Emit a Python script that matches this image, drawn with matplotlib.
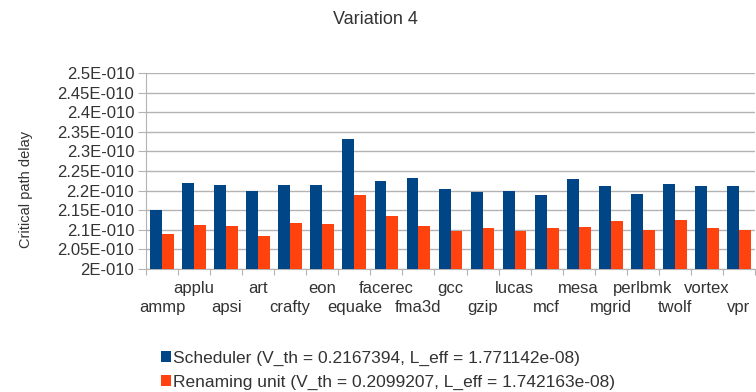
import numpy as np
import matplotlib.pyplot as plt

plt.rcParams['font.family'] = ['Liberation Sans', 'DejaVu Sans']

benchmarks = ['ammp', 'applu', 'apsi', 'art', 'crafty', 'eon', 'equake', 'facerec',
              'fma3d', 'gcc', 'gzip', 'lucas', 'mcf', 'mesa', 'mgrid', 'perlbmk',
              'twolf', 'vortex', 'vpr']
# critical path delay, in units of 1e-10 s
scheduler = [2.150, 2.219, 2.215, 2.199, 2.215, 2.215, 2.331, 2.225, 2.233, 2.203,
             2.196, 2.200, 2.188, 2.229, 2.212, 2.191, 2.216, 2.212, 2.212]
renaming = [2.089, 2.113, 2.110, 2.085, 2.117, 2.115, 2.188, 2.134, 2.109, 2.096,
            2.105, 2.096, 2.105, 2.107, 2.122, 2.100, 2.126, 2.105, 2.100]
y_ticks = [2.0, 2.05, 2.1, 2.15, 2.2, 2.25, 2.3, 2.35, 2.4, 2.45, 2.5]

sched_label = 'Scheduler (V_th = 0.2167394, L_eff = 1.771142e-08)'
ren_label = 'Renaming unit (V_th = 0.2099207, L_eff = 1.742163e-08)'

blue = '#004586'
orange = '#ff420e'
gray = '#b3b3b3'

fig = plt.figure(figsize=(7.56, 3.92), dpi=100)
ax = fig.add_axes([146 / 756, 1 - 269 / 392, 609 / 756, 196 / 392])

x = np.arange(len(benchmarks))
w = 0.37
ax.bar(x - w / 2, np.array(scheduler) * 1e-10, w, color=blue, label=sched_label, zorder=3)
ax.bar(x + w / 2, np.array(renaming) * 1e-10, w, color=orange, label=ren_label, zorder=3)

ax.set_xlim(-0.5, len(benchmarks) - 0.5)
ax.set_ylim(2.0e-10, 2.5e-10)

def sci_label(v):
    s = ('%.2f' % v).rstrip('0').rstrip('.')
    return s + 'E-010'

ax.set_yticks([v * 1e-10 for v in y_ticks])
ax.set_yticklabels([sci_label(v) for v in y_ticks])
ax.yaxis.get_offset_text().set_visible(False)
ax.tick_params(axis='y', length=5.5, color=gray, labelsize=12, labelcolor='#333333', pad=3)
ax.grid(axis='y', color=gray, linewidth=1, zorder=0)

# category ticks at the boundaries, labels in two staggered rows
ax.set_xticks(np.arange(len(benchmarks) + 1) - 0.5)
ax.set_xticklabels([])
ax.tick_params(axis='x', length=4.5, color=gray)
for i, name in enumerate(benchmarks):
    yy = -0.099 if i % 2 else -0.197
    ax.text(i, yy, name, transform=ax.get_xaxis_transform(), ha='center', va='center',
            fontsize=12, color='#333333')

for side in ['top', 'right']:
    ax.spines[side].set_visible(False)
ax.spines['left'].set_color(gray)
ax.spines['bottom'].set_color(gray)

fig.text(375 / 756, 1 - 19 / 392, 'Variation 4', ha='center', va='center',
         fontsize=13, color='#333333')
fig.text(26 / 756, 1 - 189 / 392, 'Critical path delay', rotation=90, ha='center',
         va='center', fontsize=10.5, color='#333333')

fig.legend(loc='upper left', bbox_to_anchor=(161 / 756, 1 - 351 / 392), frameon=False,
           fontsize=12.5, handlelength=0.6, handleheight=0.6, handletextpad=0.1,
           labelspacing=0.5, borderaxespad=0, borderpad=0, labelcolor='#333333')

fig.savefig('out.png', dpi=100)
